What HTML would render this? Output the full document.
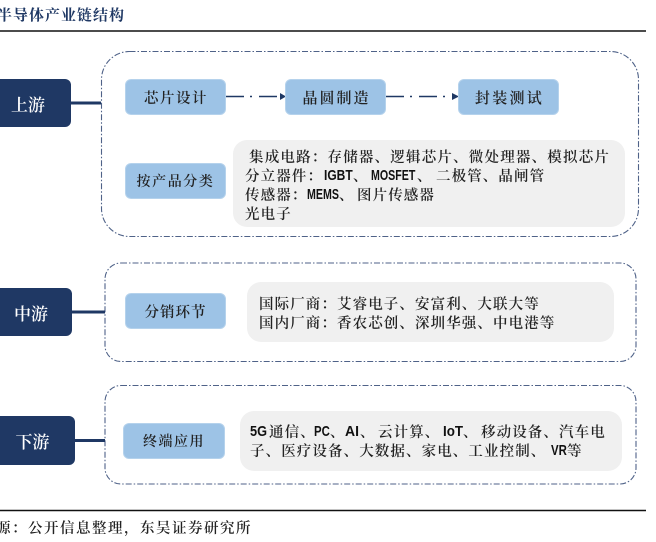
<!DOCTYPE html>
<html lang="zh"><head><meta charset="utf-8">
<style>
html,body{margin:0;padding:0;background:#fff}
body{position:relative;width:656px;height:542px;overflow:hidden;font-family:"Liberation Serif","Noto Serif CJK SC",serif;color:#1a1a1a}
.t{position:absolute;white-space:nowrap;font-size:14.5px;line-height:18px;letter-spacing:1.1px;font-family:"Noto Serif CJK SC",serif;font-weight:600;color:#222}
.n{position:absolute;white-space:nowrap;font-family:"Liberation Sans",sans-serif;font-weight:700;font-size:15px;line-height:18px;color:#111;transform-origin:0 50%}
.l{position:absolute;background:#9dc3e6;border-radius:6px;display:flex;align-items:center;justify-content:center;font-family:"Noto Serif CJK SC",serif;font-weight:600;font-size:15px;color:#222;letter-spacing:1.5px;box-sizing:border-box;border:1px solid #b5d2ec}
.d{position:absolute;background:#1f3864;border-radius:6px;display:flex;align-items:center;justify-content:center;font-family:"Noto Serif CJK SC",serif;font-size:17px;color:#fff;box-sizing:border-box;font-weight:600}
.g{position:absolute;background:#f0f0f0;border-radius:14px}
svg{position:absolute;left:0;top:0}
</style></head><body>
<svg width="656" height="542" viewBox="0 0 656 542">
<line x1="0" y1="31" x2="646" y2="31" stroke="#111" stroke-width="1.4"/>
<line x1="0" y1="510.5" x2="646" y2="510.5" stroke="#111" stroke-width="1.4"/>
<g fill="none" stroke="#4f6288" stroke-width="1.1" stroke-dasharray="6 2 1.5 2">
<rect x="101.5" y="51.5" width="537" height="185" rx="28" ry="28"/>
<rect x="105" y="263" width="531" height="98.5" rx="16" ry="16"/>
<rect x="105" y="385.5" width="531" height="98.5" rx="16" ry="16"/>
</g>
<g stroke="#1f3864" stroke-width="3">
<line x1="71" y1="103" x2="101" y2="103"/>
<line x1="72" y1="312" x2="105" y2="312"/>
<line x1="74" y1="440.5" x2="105" y2="440.5"/>
</g>
<g fill="none" stroke="#1f3864" stroke-width="1.5" stroke-dasharray="18 6 2 7">
<line x1="226" y1="96.5" x2="280" y2="96.5"/>
<line x1="386" y1="96.5" x2="453" y2="96.5"/>
</g>
<polygon points="280,93 286,96.5 280,100" fill="#1f3864"/>
<polygon points="452,93 459,96.5 452,100" fill="#1f3864"/>
</svg>

<div class="t" style="left:-3px;top:5px;font-size:15px;line-height:20px;letter-spacing:1px;font-weight:700;color:#1f3864">半导体产业链结构</div>

<div class="d" style="left:-10px;top:79px;width:81px;height:48px;padding-right:5px">上游</div>
<div class="d" style="left:-10px;top:288px;width:82px;height:48px">中游</div>
<div class="d" style="left:-10px;top:416px;width:85px;height:49px">下游</div>

<div class="l" style="left:125px;top:79px;width:101px;height:36px;font-size:14.5px;padding-left:1px">芯片设计</div>
<div class="l" style="left:285px;top:79px;width:101px;height:36px;letter-spacing:2px;padding-left:2px">晶圆制造</div>
<div class="l" style="left:458px;top:79px;width:101px;height:36px;letter-spacing:2.3px;padding-left:2px">封装测试</div>
<div class="l" style="left:125px;top:163px;width:101px;height:36px;font-size:14px;letter-spacing:1.6px">按产品分类</div>
<div class="l" style="left:125px;top:293px;width:101px;height:36px;font-size:14.5px;letter-spacing:1px">分销环节</div>
<div class="l" style="left:123px;top:423px;width:102px;height:36px;font-size:14px;letter-spacing:1.5px">终端应用</div>

<div class="g" style="left:233px;top:140px;width:392px;height:87px"></div>
<div class="g" style="left:247px;top:282px;width:367px;height:60px"></div>
<div class="g" style="left:240px;top:411px;width:382px;height:60px"></div>

<div class="t" style="left:249px;top:148px;letter-spacing:1.2px">集成电路：存储器、逻辑芯片、微处理器、模拟芯片</div>

<div class="t" style="left:245px;top:167px">分立器件：</div>
<div class="n" style="left:324px;top:167px;transform:scaleX(.8)">IGBT</div>
<div class="t" style="left:353px;top:167px">、</div>
<div class="n" style="left:371px;top:167px;transform:scaleX(.71)">MOSFET</div>
<div class="t" style="left:417px;top:167px">、</div>
<div class="t" style="left:436px;top:167px">二极管、晶闸管</div>

<div class="t" style="left:245px;top:186px">传感器：</div>
<div class="n" style="left:307px;top:186px;transform:scaleX(.71)">MEMS</div>
<div class="t" style="left:339px;top:186px">、</div>
<div class="t" style="left:357px;top:186px">图片传感器</div>

<div class="t" style="left:245px;top:205px">光电子</div>

<div class="t" style="left:259px;top:295px">国际厂商：艾睿电子、安富利、大联大等</div>
<div class="t" style="left:259px;top:314px">国内厂商：香农芯创、深圳华强、中电港等</div>

<div class="n" style="left:250px;top:423px;transform:scaleX(.85)">5G</div>
<div class="t" style="left:269px;top:423px">通信、</div>
<div class="n" style="left:314px;top:423px;transform:scaleX(.76)">PC</div>
<div class="t" style="left:330px;top:423px">、</div>
<div class="n" style="left:345px;top:423px;transform:scaleX(.93)">AI</div>
<div class="t" style="left:360px;top:423px">、</div>
<div class="t" style="left:378px;top:423px">云计算、</div>
<div class="n" style="left:443px;top:423px;transform:scaleX(.89)">IoT</div>
<div class="t" style="left:463px;top:423px">、</div>
<div class="t" style="left:481px;top:423px">移动设备、汽车电</div>

<div class="t" style="left:250px;top:442px">子、医疗设备、大数据、家电、工业控制、</div>
<div class="n" style="left:551px;top:442px;transform:scaleX(.76)">VR</div>
<div class="t" style="left:567px;top:442px">等</div>

<div class="t" style="left:-4px;top:519px;letter-spacing:1.5px">源：公开信息整理，东吴证券研究所</div>
</body></html>
